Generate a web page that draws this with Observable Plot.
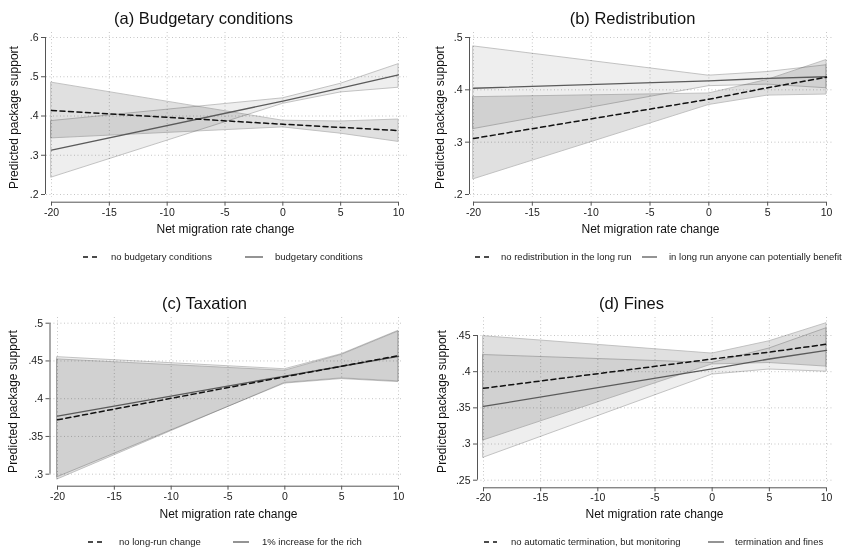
<!DOCTYPE html>
<html><head><meta charset="utf-8">
<script src="https://cdn.jsdelivr.net/npm/d3@7"></script>
<script src="https://cdn.jsdelivr.net/npm/@observablehq/plot@0.6"></script>
<style>
body{margin:0;background:#fff;}
#grid{position:relative;width:844px;height:548px;font-family:"Liberation Sans",Arial,sans-serif;background:#fff;}
.panel{position:absolute;width:422px;height:274px;}
.panel svg{position:absolute;left:0;top:0;}
.lg{position:absolute;font-size:9.5px;color:#222;white-space:nowrap;line-height:1;}
.lgs{position:absolute;}
</style>
</head><body>
<div id="grid"></div>
<script>
// ---- data (x = net migration rate change) ----
const xs = [-20, 0, 5, 10];

// (a) Budgetary conditions
const aTitle = "(a) Budgetary conditions";
const aNames = ["no budgetary conditions", "budgetary conditions"];
const aMean1 = [0.414, 0.379, 0.371, 0.363];
const aLo1   = [0.343, 0.371, 0.355, 0.334];
const aHi1   = [0.485, 0.388, 0.386, 0.391];
const aMean2 = [0.313, 0.438, 0.471, 0.505];
const aLo2   = [0.243, 0.431, 0.460, 0.472];
const aHi2   = [0.387, 0.445, 0.482, 0.532];
const aYTicks = [0.2, 0.3, 0.4, 0.5, 0.6];

// (b) Redistribution
const bTitle = "(b) Redistribution";
const bNames = ["no redistribution in the long run", "in long run anyone can potentially benefit"];
const bMean1 = [0.307, 0.382, 0.404, 0.424];
const bLo1   = [0.229, 0.371, 0.389, 0.391];
const bHi1   = [0.386, 0.393, 0.419, 0.457];
const bMean2 = [0.403, 0.417, 0.422, 0.425];
const bLo2   = [0.325, 0.407, 0.410, 0.403];
const bHi2   = [0.483, 0.427, 0.434, 0.447];
const bYTicks = [0.2, 0.3, 0.4, 0.5];

// (c) Taxation
const cTitle = "(c) Taxation";
const cNames = ["no long-run change", "1% increase for the rich"];
const cMean1 = [0.372, 0.429, 0.443, 0.457];
const cLo1   = [0.293, 0.421, 0.427, 0.423];
const cHi1   = [0.452, 0.437, 0.458, 0.489];
const cMean2 = [0.377, 0.430, 0.443, 0.456];
const cLo2   = [0.296, 0.420, 0.426, 0.422];
const cHi2   = [0.455, 0.439, 0.459, 0.490];
const cYTicks = [0.3, 0.35, 0.4, 0.45, 0.5];

// (d) Fines
const dTitle = "(d) Fines";
const dNames = ["no automatic termination, but monitoring", "termination and fines"];
const dMean1 = [0.377, 0.4175, 0.427, 0.438];
const dLo1   = [0.305, 0.410, 0.412, 0.407];
const dHi1   = [0.449, 0.425, 0.442, 0.467];
const dMean2 = [0.352, 0.404, 0.4175, 0.4295];
const dLo2   = [0.281, 0.396, 0.403, 0.400];
const dHi2   = [0.423, 0.412, 0.432, 0.460];
const dYTicks = [0.25, 0.3, 0.35, 0.4, 0.45];

const xTicks = [-20, -15, -10, -5, 0, 5, 10];
const xLabel = "Net migration rate change";
const yLabel = "Predicted package support";

// ---- layout (panel-relative pixels) ----
const panels = [
  {left:0, top:0, title:aTitle, names:aNames, m1:aMean1, l1:aLo1, h1:aHi1, m2:aMean2, l2:aLo2, h2:aHi2, yt:aYTicks,
   xr:[51,398], yr:[194,37], fL:46, fR:407, fT:32, fB:197, yAx:45, xAx:201.7,
   tX:203, tY:18, xlX:225, xlY:229, ylX:14, ylY:117,
   lg:{y:257, s1:[83,97], t1:111, s2:[245,263], t2:275}},
  {left:422, top:0, title:bTitle, names:bNames, m1:bMean1, l1:bLo1, h1:bHi1, m2:bMean2, l2:bLo2, h2:bHi2, yt:bYTicks,
   xr:[51,404], yr:[194,37], fL:48, fR:410, fT:32, fB:197, yAx:47, xAx:201.7,
   tX:210, tY:18, xlX:228, xlY:229, ylX:18, ylY:117,
   lg:{y:257, s1:[53,67], t1:79, s2:[220,235], t2:247}},
  {left:0, top:274, title:cTitle, names:cNames, m1:cMean1, l1:cLo1, h1:cHi1, m2:cMean2, l2:cLo2, h2:cHi2, yt:cYTicks,
   xr:[57,398], yr:[199.7,48.7], fL:50, fR:403, fT:43, fB:207, yAx:49.5, xAx:211.7,
   tX:204, tY:29, xlX:228, xlY:240, ylX:13, ylY:127,
   lg:{y:267.7, s1:[88,102], t1:119, s2:[233,249], t2:262}},
  {left:422, top:274, title:dTitle, names:dNames, m1:dMean1, l1:dLo1, h1:dHi1, m2:dMean2, l2:dLo2, h2:dHi2, yt:dYTicks,
   xr:[61,404], yr:[205.7,61], fL:55, fR:410, fT:43, fB:208, yAx:55, xAx:213.3,
   tX:209, tY:29, xlX:232, xlY:240, ylX:20, ylY:127,
   lg:{y:267.7, s1:[62,75], t1:89, s2:[286,302], t2:313}}
];

const W = 422, H = 274;
const FONT = "Liberation Sans, Arial, Helvetica, sans-serif";
const fmtY = d => String(d).replace(/^0\./, ".");
const fmtX = d => String(d);
const gridStyle = {stroke:"#b8b8b8", strokeOpacity:1, strokeWidth:0.9, strokeDasharray:"0.9,2.6"};
const fill1 = "#e0e0e0", fill2 = "#eeeeee";
const bandStroke = "#bcbcbc";
const axisColor = "#555";

const root = document.getElementById("grid");

for (const p of panels) {
  const rows1 = xs.map((x, i) => ({x, m: p.m1[i], lo: p.l1[i], hi: p.h1[i]}));
  const rows2 = xs.map((x, i) => ({x, m: p.m2[i], lo: p.l2[i], hi: p.h2[i]}));
  const ymin = p.yt[0], ymax = p.yt[p.yt.length - 1];
  const fcx = (p.fL + p.fR) / 2, fcy = (p.fT + p.fB) / 2;

  const svg = Plot.plot({
    width: W, height: H,
    marginLeft: p.fL, marginRight: W - p.fR, marginTop: p.fT, marginBottom: H - p.fB,
    style: {fontFamily: FONT, background: "transparent", color: "#222"},
    x: {domain: [-20, 10], range: p.xr},
    y: {domain: [ymin, ymax], range: p.yr},
    marks: [
      Plot.gridY(p.yt, gridStyle),
      Plot.gridX(xTicks, gridStyle),
      Plot.areaY(rows1, {x: "x", y1: "lo", y2: "hi", fill: fill1, stroke: bandStroke, strokeWidth: 0.9, mixBlendMode: "multiply"}),
      Plot.areaY(rows2, {x: "x", y1: "lo", y2: "hi", fill: fill2, stroke: bandStroke, strokeWidth: 0.9, mixBlendMode: "multiply"}),
      Plot.lineY(rows2, {x: "x", y: "m", stroke: "#5a5a5a", strokeWidth: 1.3}),
      Plot.lineY(rows1, {x: "x", y: "m", stroke: "#111", strokeWidth: 1.5, strokeDasharray: "5,3.5"}),
      Plot.ruleX([-20], {y1: ymin, y2: ymax, dx: p.yAx - p.xr[0], stroke: axisColor, strokeWidth: 1}),
      Plot.ruleY([ymin], {x1: -20, x2: 10, dy: p.xAx - p.yr[0], stroke: axisColor, strokeWidth: 1}),
      Plot.axisY(p.yt, {anchor: "left", tickFormat: fmtY, tickSize: 4, tickPadding: 3, dx: p.yAx - p.fL,
        stroke: axisColor, label: null, fontSize: 10.5, fill: "#222"}),
      Plot.axisX(xTicks, {anchor: "bottom", tickFormat: fmtX, tickSize: 4, tickPadding: 2, dy: p.xAx - p.fB,
        stroke: axisColor, label: null, fontSize: 10.5, fill: "#222"}),
      Plot.text([yLabel], {frameAnchor: "left", rotate: -90, textAnchor: "middle", lineAnchor: "middle",
        dx: p.ylX - p.fL, dy: p.ylY - fcy, fontSize: 12, fill: "#111"}),
      Plot.text([xLabel], {frameAnchor: "bottom", textAnchor: "middle", lineAnchor: "middle",
        dx: p.xlX - fcx, dy: p.xlY - p.fB, fontSize: 12, fill: "#111"}),
      Plot.text([p.title], {frameAnchor: "top", textAnchor: "middle", lineAnchor: "middle",
        dx: p.tX - fcx, dy: p.tY - p.fT, fontSize: 16.5, fill: "#111"})
    ]
  });

  const div = document.createElement("div");
  div.className = "panel";
  div.style.left = p.left + "px";
  div.style.top = p.top + "px";
  div.appendChild(svg);

  // legend
  const g = p.lg;
  const mkSample = (x0, x1, dashed) => {
    const s = document.createElementNS("http://www.w3.org/2000/svg", "svg");
    s.setAttribute("class", "lgs");
    s.setAttribute("width", x1 - x0 + 2);
    s.setAttribute("height", 6);
    s.style.left = (x0 - 1) + "px";
    s.style.top = (g.y - 3) + "px";
    const l = document.createElementNS("http://www.w3.org/2000/svg", "line");
    l.setAttribute("x1", 1); l.setAttribute("x2", x1 - x0 + 1);
    l.setAttribute("y1", 3); l.setAttribute("y2", 3);
    l.setAttribute("stroke", dashed ? "#111" : "#5a5a5a");
    l.setAttribute("stroke-width", dashed ? 1.5 : 1.3);
    if (dashed) l.setAttribute("stroke-dasharray", "5,4");
    s.appendChild(l);
    return s;
  };
  const mkLabel = (x, text) => {
    const t = document.createElement("div");
    t.className = "lg";
    t.textContent = text;
    t.style.left = x + "px";
    t.style.top = (g.y - 5) + "px";
    return t;
  };
  div.appendChild(mkSample(g.s1[0], g.s1[1], true));
  div.appendChild(mkLabel(g.t1, p.names[0]));
  div.appendChild(mkSample(g.s2[0], g.s2[1], false));
  div.appendChild(mkLabel(g.t2, p.names[1]));

  root.appendChild(div);
}
</script>
</body></html>
